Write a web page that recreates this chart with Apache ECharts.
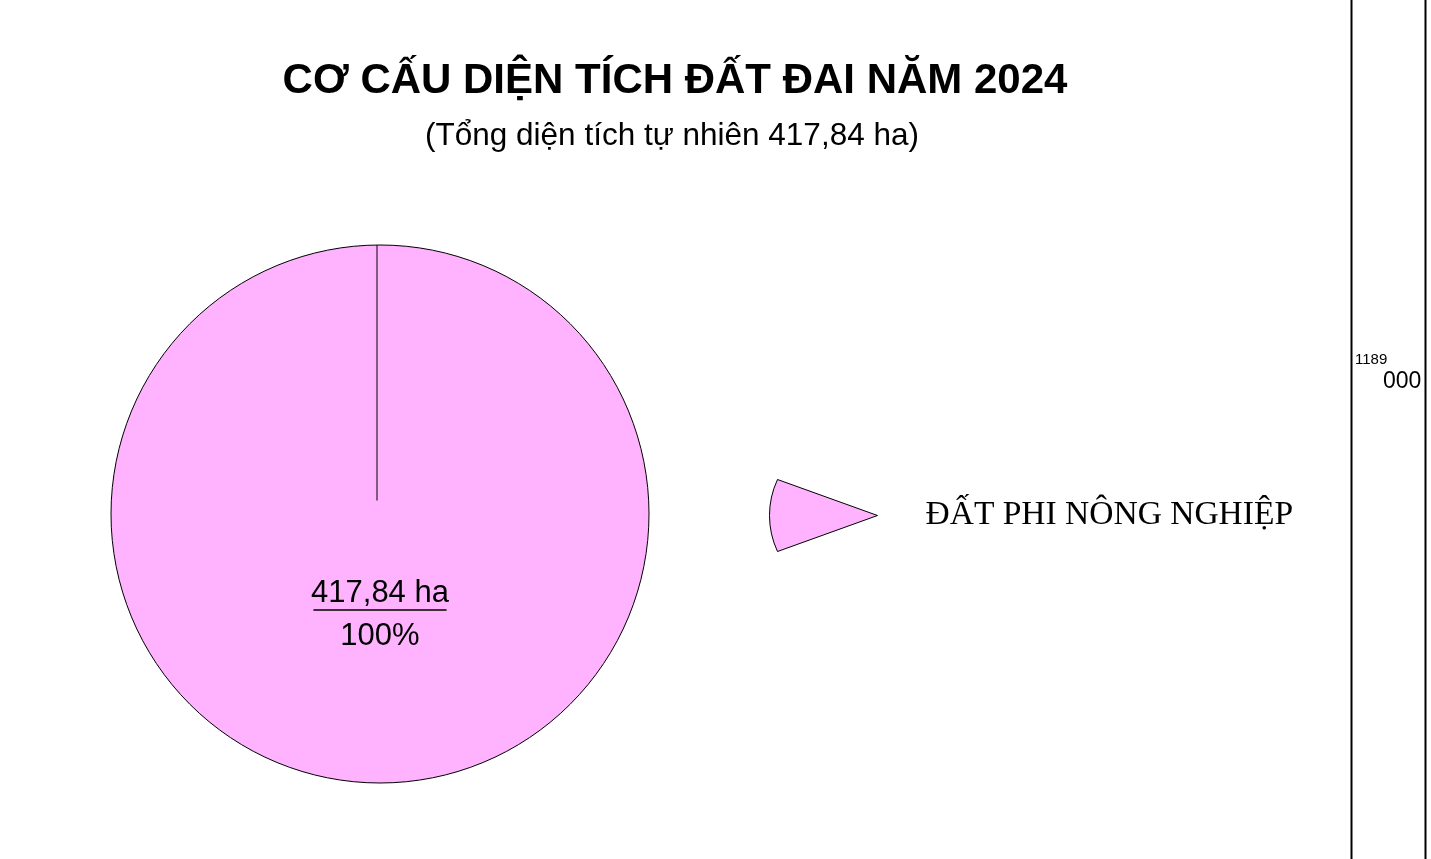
<!DOCTYPE html>
<html>
<head>
<meta charset="utf-8">
<title>Cơ cấu diện tích đất đai năm 2024</title>
<script src="https://cdn.jsdelivr.net/npm/echarts@6/dist/echarts.min.js"></script>
<style>
  html, body { margin: 0; padding: 0; background: #fff; }
  #chart { width: 1431px; height: 859px; }
</style>
</head>
<body>
<div id="chart"></div>
<script>
// du lieu
const categories = ['ĐẤT PHI NÔNG NGHIỆP']
const areas = [417.84]       // ha
const percents = ['100%']
const colors = ['#FFB3FF']

const titleText = 'CƠ CẤU DIỆN TÍCH ĐẤT ĐAI NĂM 2024'
const subText = '(Tổng diện tích tự nhiên 417,84 ha)'

const chart = echarts.init(document.getElementById('chart'))

const fmtHa = v => v.toFixed(2).replace('.', ',') + ' ha'

chart.setOption({
  backgroundColor: '#fff',
  animation: false,
  title: [
    {
      text: titleText,
      left: 670, top: 55, textAlign: 'center',
      textStyle: { fontFamily: 'Liberation Sans, Arial', fontWeight: 'bold', fontSize: 42, color: '#000' }
    },
    {
      text: subText,
      left: 667, top: 115, textAlign: 'center',
      textStyle: { fontFamily: 'Liberation Sans, Arial', fontWeight: 'normal', fontSize: 31.5, color: '#000' }
    }
  ],
  legend: {
    orient: 'vertical',
    left: 769, top: 479,
    padding: 0,
    itemWidth: 110, itemHeight: 72,
    icon: 'path://M8,0 L108,36 L8,72 A85,85 0 0 1 8,0 Z',
    itemStyle: { borderColor: '#000', borderWidth: 1 },
    selectedMode: false,
    textStyle: {
      fontFamily: 'Liberation Serif, Times New Roman', fontSize: 33.5, color: '#000',
      padding: [4, 0, 0, 42]
    },
    data: categories
  },
  series: [{
    type: 'pie',
    center: [380, 514],
    radius: 269,
    startAngle: 90,
    clockwise: true,
    silent: true,
    emphasis: { disabled: true },
    itemStyle: { borderColor: '#000', borderWidth: 1 },
    label: {
      show: true,
      position: 'inside',
      align: 'center',
      padding: [0, 0, 65, 0],
      formatter: p => `{a|${fmtHa(p.value)}}\n{hr|}\n{b|${percents[p.dataIndex]}}`,
      rich: {
        a: { fontFamily: 'Liberation Sans, Arial', fontSize: 31, color: '#000', align: 'center', height: 34 },
        hr: { borderColor: '#000', borderWidth: 1, width: 133, height: 0, align: 'center' },
        b: { fontFamily: 'Liberation Sans, Arial', fontSize: 31, color: '#000', align: 'center', height: 52, verticalAlign: 'bottom' }
      }
    },
    labelLine: { show: false },
    data: categories.map((name, i) => ({
      name, value: areas[i], itemStyle: { color: colors[i] }
    }))
  }]
})

// duong ban kinh tai goc bat dau (lay tu layout cua pie)
const lay = chart.getModel().getSeriesByIndex(0).getData().getItemLayout(0)
const a0 = lay.startAngle
chart.setOption({
  graphic: [
    {
      type: 'line', silent: true, z: 10,
      shape: {
        x1: lay.cx - 3 + Math.cos(a0) * lay.r, y1: lay.cy + Math.sin(a0) * lay.r,
        x2: lay.cx - 3 + Math.cos(a0) * lay.r * 0.05, y2: lay.cy + Math.sin(a0) * lay.r * 0.05
      },
      style: { stroke: '#000', lineWidth: 1 }
    },
    // khung ben phai
    { type: 'line', silent: true, shape: { x1: 1351.5, y1: 0, x2: 1351.5, y2: 859 }, style: { stroke: '#000', lineWidth: 2 } },
    { type: 'line', silent: true, shape: { x1: 1425.5, y1: 0, x2: 1425.5, y2: 859 }, style: { stroke: '#000', lineWidth: 2 } },
    { type: 'text', silent: true, left: 1355, top: 352, style: { text: '1189', font: '15px Liberation Sans, Arial', fill: '#000' } },
    { type: 'text', silent: true, left: 1383, top: 370, style: { text: '000', font: '23px Liberation Sans, Arial', fill: '#000' } }
  ]
})
</script>
</body>
</html>
